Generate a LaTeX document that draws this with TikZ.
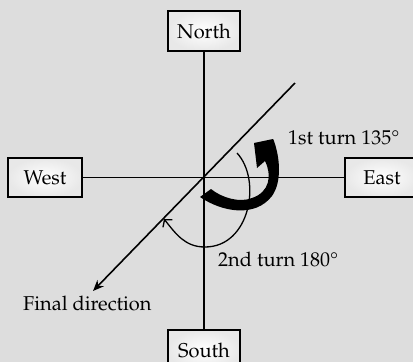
\documentclass[tikz,border=0pt]{standalone}
\usepackage[T1]{fontenc}
\usepackage{textcomp}
\renewcommand\rmdefault{ppl}
\usetikzlibrary{arrows.meta}
\definecolor{bg}{RGB}{221,221,221}
\tikzset{
  dirbox/.style={draw=black, line width=1.6pt, inner sep=0pt, minimum width=72pt, minimum height=40pt,
    inner color=white, outer color=gray!18, font=\fontsize{20}{24}\selectfont},
  axis/.style={line width=1.6pt},
  lbl/.style={anchor=base west, inner sep=0pt, font=\fontsize{20}{24}\selectfont}
}
\begin{document}
\begin{tikzpicture}[x=1pt,y=-1pt]
\fill[bg] (0,0) rectangle (413,362);
\useasboundingbox (0,0) rectangle (413,362);
\coordinate (O) at (204,177.5);
\node[dirbox] (N) at (204,31) {North};
\node[dirbox] (S) at (204,350) {South};
\node[dirbox, minimum width=74pt, minimum height=39pt] (W) at (45,177.5) {West};
\node[dirbox, minimum width=74pt, minimum height=39pt] (E) at (382,177.5) {East};
\draw[axis] (N) -- (S);
\draw[axis] (W) -- (E);
\coordinate (NE) at (295,83);
\coordinate (FD) at (93,291);
\draw[axis, -{Stealth[length=11pt,width=9pt]}] (NE) -- (FD);
\node[lbl] (t1) at (288,144) {1st turn 135\textdegree};
\node[lbl] (t2) at (218,266) {2nd turn 180\textdegree};
\node[lbl] (fd) at (23,310) {Final direction};
% thin turn arc
\coordinate (a1) at (237,153);
\coordinate (a2) at (205,247);
\coordinate (a3) at (164,219);
\draw[line width=1.3pt, -{Straight Barb[length=5pt,width=12pt]}] (a1) .. controls (262,180) and (250,247) .. (a2)
  .. controls (185,247) and (176,234) .. (a3);
% thick turn arrow
\fill (200,197) .. controls (222,212) and (255,218) .. (272,196)
  .. controls (282,182) and (280,158) .. (274,141)
  -- (273,139) -- (254,143) -- (257,168) -- (265,161)
  .. controls (272,175) and (270,192) .. (252,198)
  .. controls (240,203) and (222,198) .. (211,189) -- cycle;
\end{tikzpicture}
\end{document}
